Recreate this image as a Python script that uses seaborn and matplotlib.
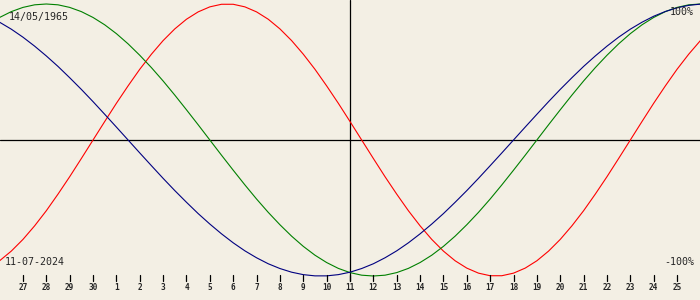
import matplotlib
matplotlib.use("Agg")
import matplotlib.pyplot as plt
import seaborn as sns
import pandas as pd

# Day offsets (half-day steps) relative to 11-07-2024 and tick labels
day_offsets = [i / 2 for i in range(-30, 31)]
tick_offsets = list(range(-14, 15))
tick_labels = ["27", "28", "29", "30", "1", "2", "3", "4", "5", "6", "7", "8", "9", "10",
               "11", "12", "13", "14", "15", "16", "17", "18", "19", "20", "21", "22",
               "23", "24", "25"]

# Series values (fraction of 100%), one per half-day offset
physical = [-0.888, -0.817, -0.731, -0.631, -0.520, -0.398, -0.270, -0.136,
            0.0, 0.136, 0.270, 0.398, 0.520, 0.631, 0.731, 0.817, 0.888, 0.942,
            0.979, 0.998, 0.998, 0.979, 0.942, 0.888, 0.817, 0.731, 0.631, 0.520,
            0.398, 0.270, 0.136,
            0.0, -0.136, -0.270, -0.398, -0.520, -0.631, -0.731, -0.817, -0.888,
            -0.942, -0.979, -0.998, -0.998, -0.979, -0.942, -0.888, -0.817, -0.731,
            -0.631, -0.520, -0.398, -0.270, -0.136,
            0.0, 0.136, 0.270, 0.398, 0.520, 0.631, 0.731]
emotional = [0.901, 0.944, 0.975, 0.994, 1.0, 0.994, 0.975, 0.944, 0.901, 0.847,
             0.782, 0.707, 0.623, 0.532, 0.434, 0.330, 0.222, 0.112, 0.0, -0.112,
             -0.222, -0.330, -0.434, -0.532, -0.623, -0.707, -0.782, -0.847, -0.901,
             -0.944, -0.975,
             -0.994, -1.0, -0.994, -0.975, -0.944, -0.901, -0.847, -0.782, -0.707,
             -0.623, -0.532, -0.434, -0.330, -0.222, -0.112, 0.0, 0.112, 0.222,
             0.330, 0.434, 0.532, 0.623, 0.707, 0.782, 0.847, 0.901, 0.944, 0.975,
             0.994, 1.0]
intellectual = [0.866, 0.815, 0.756, 0.690, 0.618, 0.541, 0.458, 0.372, 0.282, 0.189,
                0.095, 0.0, -0.095, -0.189, -0.282, -0.372, -0.458, -0.541, -0.618,
                -0.690, -0.756, -0.815, -0.866, -0.910, -0.945, -0.972, -0.990, -0.999,
                -0.999, -0.990, -0.972,
                -0.945, -0.910, -0.866, -0.815, -0.756, -0.690, -0.618, -0.541, -0.458,
                -0.372, -0.282, -0.189, -0.095, 0.0, 0.095, 0.189, 0.282, 0.372, 0.458,
                0.541, 0.618, 0.690, 0.756, 0.815, 0.866, 0.910, 0.945, 0.972, 0.990,
                0.999]

birth_label = "14/05/1965"
date_label = "11-07-2024"
top_label = "100%"
bottom_label = "-100%"

bg = "#f3efe4"
colors = {"physical": "#ff0000", "emotional": "#008000", "intellectual": "#000080"}

df = pd.concat([
    pd.DataFrame({"day": day_offsets, "value": physical, "cycle": "physical"}),
    pd.DataFrame({"day": day_offsets, "value": emotional, "cycle": "emotional"}),
    pd.DataFrame({"day": day_offsets, "value": intellectual, "cycle": "intellectual"}),
])

sns.set_style("white")
fig = plt.figure(figsize=(7, 3), dpi=100, facecolor=bg)
ax = fig.add_axes([0, 0, 1, 1])
ax.set_facecolor(bg)

px_per_day = 23.36
amp_px = 136.0
ax.set_xlim(-350 / px_per_day, 350 / px_per_day)
ax.set_ylim(-160 / amp_px, 140 / amp_px)

# axes lines
ax.axhline(0, color="black", lw=0.9, zorder=1)
ax.plot([0, 0], [140 / amp_px, -141 / amp_px], color="black", lw=0.9, zorder=1)

sns.lineplot(data=df, x="day", y="value", hue="cycle", palette=colors, lw=0.8,
             legend=False, ax=ax, zorder=2, estimator=None, sort=False)

# tick marks and labels
y_t0 = -135 / amp_px
y_t1 = -141 / amp_px
y_lab = -148 / amp_px
for d, lab in zip(tick_offsets, tick_labels):
    ax.plot([d, d], [y_t0, y_t1], color="black", lw=0.9)
    ax.text(d, y_lab, lab, ha="center", va="center", fontsize=5.6,
            family="DejaVu Sans Mono", fontweight="bold")

xl = ax.get_xlim()
ax.text(xl[0] + 9 / px_per_day, 123 / amp_px, birth_label, ha="left", va="center",
        fontsize=7.2, family="DejaVu Sans Mono")
ax.text(xl[0] + 5 / px_per_day, -122 / amp_px, date_label, ha="left", va="center",
        fontsize=7.2, family="DejaVu Sans Mono")
ax.text(xl[1] - 6 / px_per_day, 128 / amp_px, top_label, ha="right", va="center",
        fontsize=7.2, family="DejaVu Sans Mono")
ax.text(xl[1] - 6 / px_per_day, -122 / amp_px, bottom_label, ha="right", va="center",
        fontsize=7.2, family="DejaVu Sans Mono")

ax.set_xticks([])
ax.set_yticks([])
ax.set_xlabel("")
ax.set_ylabel("")
for s in ax.spines.values():
    s.set_visible(False)

fig.savefig("out.png", dpi=100, facecolor=bg)
